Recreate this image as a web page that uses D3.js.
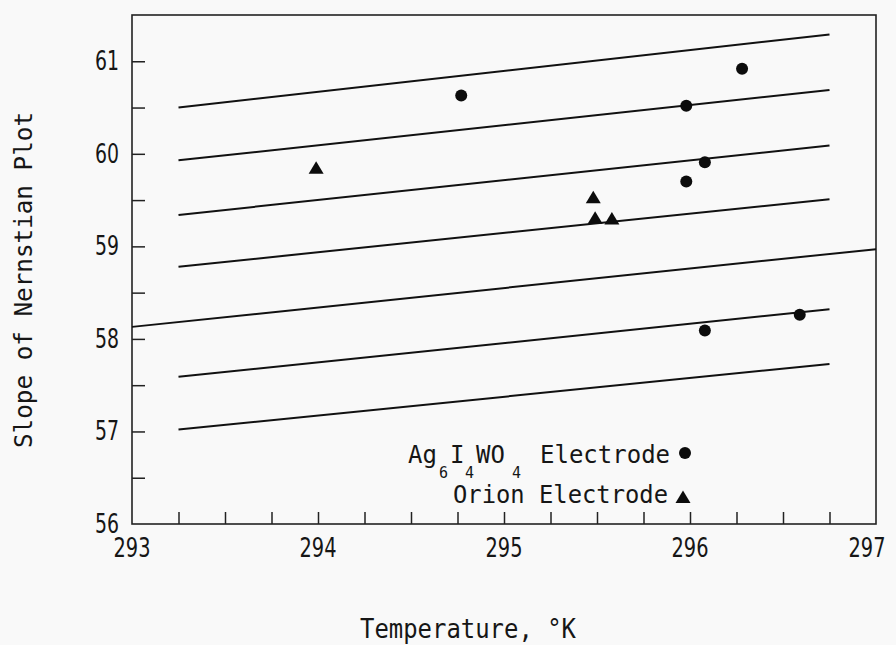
<!DOCTYPE html>
<html lang="en">
<head>
  <meta charset="UTF-8">
  <title>Slope of Nernstian Plot vs Temperature</title>
  <script src="https://cdn.jsdelivr.net/npm/d3@7/dist/d3.min.js"></script>
  <style>
    body { margin: 0; background: #f9f9f9; }
    svg text { fill: #161616; }
  </style>
</head>
<body>
  <svg width="896" height="645" id="main"></svg>
<script>
  // x ticks (labels only on whole degrees)
  const xTicks = [293, 294, 295, 296, 297];
  const yTicks = [56, 57, 58, 59, 60, 61];

  // Ag6I4WO4 electrode points [temperature K, slope]
  const agT = [294.77, 295.98, 296.28, 296.08, 295.98, 296.08, 296.59];
  const agS = [60.63, 60.52, 60.92, 59.91, 59.70, 58.09, 58.26];

  // Orion electrode points
  const orionT = [293.99, 295.48, 295.49, 295.58];
  const orionS = [59.85, 59.53, 59.31, 59.30];

  // parallel theoretical lines: start/end temperature and slope
  const lineT0 = [293.25, 293.25, 293.25, 293.25, 293, 293.25, 293.25];
  const lineS0 = [60.50, 59.93, 59.34, 58.78, 58.13, 57.59, 57.02];
  const lineT1 = [296.75, 296.75, 296.75, 296.75, 297, 296.75, 296.75];
  const lineS1 = [61.29, 60.69, 60.09, 59.51, 58.97, 58.32, 57.73];

  const svg = d3.select('#main');
  const box = {left: 132, right: 876, top: 15, bottom: 524};

  const x = d3.scaleLinear().domain([293, 297]).range([box.left, box.right]);
  const y = d3.scaleLinear().domain([56, 61.5]).range([box.bottom, box.top]);

  const monoFont = '"DejaVu Sans Mono", "Liberation Mono", monospace';
  const tickFont = '"Liberation Sans Narrow", "DejaVu Sans Condensed", "DejaVu Sans", sans-serif';

  // frame
  svg.append('rect')
    .attr('x', box.left).attr('y', box.top)
    .attr('width', box.right - box.left).attr('height', box.bottom - box.top)
    .attr('fill', 'none').attr('stroke', '#222').attr('stroke-width', 1.6);

  // x axis: inward minor ticks every 0.25
  const xAxis = d3.axisBottom(x)
    .tickValues(d3.range(293.25, 297, 0.25))
    .tickSizeInner(-12).tickSizeOuter(0)
    .tickFormat('');
  const gx = svg.append('g').attr('transform', `translate(0,${box.bottom})`).call(xAxis);
  gx.select('.domain').remove();
  gx.selectAll('line').attr('stroke', '#222').attr('stroke-width', 1.5);

  // y axis: inward ticks every 0.5
  const yAxis = d3.axisLeft(y)
    .tickValues(d3.range(56.5, 61.5, 0.5))
    .tickSizeInner(-13).tickSizeOuter(0)
    .tickFormat('');
  const gy = svg.append('g').attr('transform', `translate(${box.left},0)`).call(yAxis);
  gy.select('.domain').remove();
  gy.selectAll('line').attr('stroke', '#222').attr('stroke-width', 1.5);

  // tick labels (last one pulled in a little so it stays on the page)
  svg.append('g').selectAll('text')
    .data(xTicks).enter().append('text')
    .attr('x', d => Math.min(x(d), 867))
    .attr('y', 557)
    .attr('text-anchor', 'middle')
    .attr('font-family', tickFont)
    .attr('font-size', 27)
    .attr('textLength', 37)
    .attr('lengthAdjust', 'spacingAndGlyphs')
    .text(d => d);

  svg.append('g').selectAll('text')
    .data(yTicks).enter().append('text')
    .attr('x', 119)
    .attr('y', d => y(d) + 9)
    .attr('text-anchor', 'end')
    .attr('font-family', tickFont)
    .attr('font-size', 26)
    .attr('textLength', 24)
    .attr('lengthAdjust', 'spacingAndGlyphs')
    .text(d => d);

  // axis titles
  svg.append('text')
    .attr('x', 360).attr('y', 638)
    .attr('font-family', monoFont).attr('font-size', 26)
    .attr('textLength', 216).attr('lengthAdjust', 'spacingAndGlyphs')
    .text('Temperature, °K');

  svg.append('text')
    .attr('transform', 'translate(32,448) rotate(-90)')
    .attr('font-family', monoFont).attr('font-size', 25)
    .attr('textLength', 336).attr('lengthAdjust', 'spacingAndGlyphs')
    .text('Slope of Nernstian Plot');

  // parallel lines
  svg.append('g').selectAll('line')
    .data(lineT0).enter().append('line')
    .attr('x1', d => x(d))
    .attr('y1', (d, i) => y(lineS0[i]))
    .attr('x2', (d, i) => x(lineT1[i]))
    .attr('y2', (d, i) => y(lineS1[i]))
    .attr('stroke', '#111').attr('stroke-width', 2);

  // data points
  svg.append('g').selectAll('circle')
    .data(agT).enter().append('circle')
    .attr('cx', d => x(d))
    .attr('cy', (d, i) => y(agS[i]))
    .attr('r', 6)
    .attr('fill', '#0c0c0c');

  const tri = 'M0,-6.5L7.5,6L-7.5,6Z';
  svg.append('g').selectAll('path')
    .data(orionT).enter().append('path')
    .attr('d', tri)
    .attr('transform', (d, i) => `translate(${x(d)},${y(orionS[i])})`)
    .attr('fill', '#0c0c0c');

  // legend
  const leg1 = svg.append('text')
    .attr('y', 463)
    .attr('font-family', monoFont).attr('font-size', 24);
  const parts = [
    {t: 'Ag', x: 408, sub: false},
    {t: '6', x: 439, sub: true},
    {t: 'I', x: 450, sub: false},
    {t: '4', x: 465, sub: true},
    {t: 'WO', x: 476, sub: false},
    {t: '4', x: 512, sub: true},
    {t: 'Electrode', x: 540, sub: false}
  ];
  parts.forEach(p => {
    leg1.append('tspan')
      .attr('x', p.x)
      .attr('y', p.sub ? 478 : 463)
      .attr('font-size', p.sub ? 15 : 24)
      .text(p.t);
  });
  svg.append('circle').attr('cx', 685).attr('cy', 453).attr('r', 6).attr('fill', '#0c0c0c');

  svg.append('text')
    .attr('x', 453).attr('y', 503)
    .attr('font-family', monoFont).attr('font-size', 24)
    .attr('textLength', 215).attr('lengthAdjust', 'spacingAndGlyphs')
    .text('Orion Electrode');
  svg.append('path').attr('d', tri)
    .attr('transform', 'translate(683,497)')
    .attr('fill', '#0c0c0c');
</script>
</body>
</html>
